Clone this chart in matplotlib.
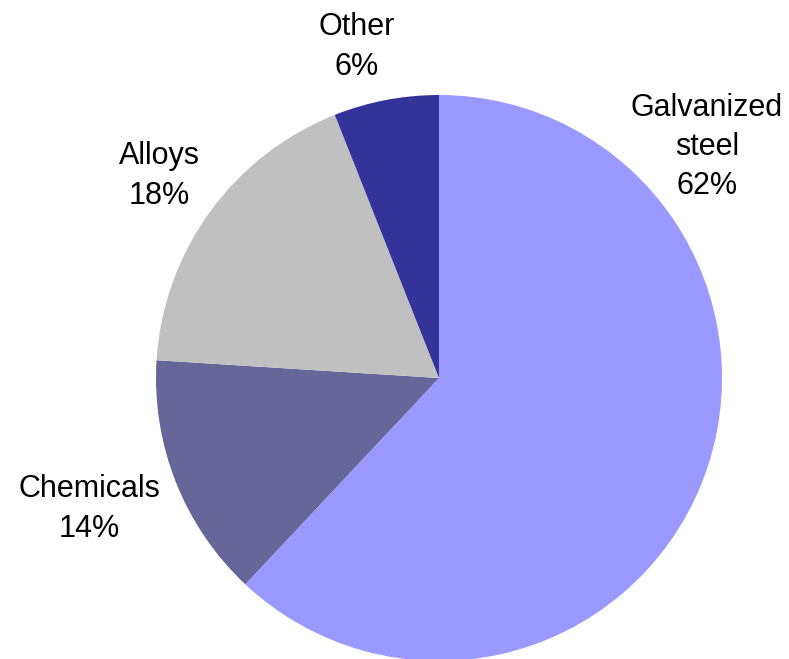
import matplotlib
matplotlib.use("Agg")
import matplotlib.pyplot as plt

# data, clockwise from 12 o'clock
categories = ["Galvanized\nsteel", "Chemicals", "Alloys", "Other"]
shares = [62, 14, 18, 6]
colors = ["#9999FF", "#666699", "#C0C0C0", "#333399"]
# where the labels sit (pixel coords, y from top)
label_pos = [(707, 147), (89, 509), (159, 176), (357, 47)]

plt.rcParams["font.family"] = ["Liberation Sans", "DejaVu Sans"]

W, H = 789, 659
fig = plt.figure(figsize=(W / 100, H / 100), dpi=100)
ax = fig.add_axes([0, 0, 1, 1])

# pie drawn in pixel space; y axis is flipped so go counterclockwise in data
ax.pie(shares, colors=colors, startangle=-90, counterclock=True,
       center=(439, 378), radius=283, frame=True,
       wedgeprops=dict(linewidth=0))
ax.set_xlim(0, W)
ax.set_ylim(H, 0)
ax.axis("off")

for name, val, (x, y) in zip(categories, shares, label_pos):
    ax.text(x, y, "%s\n%d%%" % (name, val), ha="center", va="center",
            fontsize=22, linespacing=1.4, color="black")

fig.savefig("out.png", dpi=100)
